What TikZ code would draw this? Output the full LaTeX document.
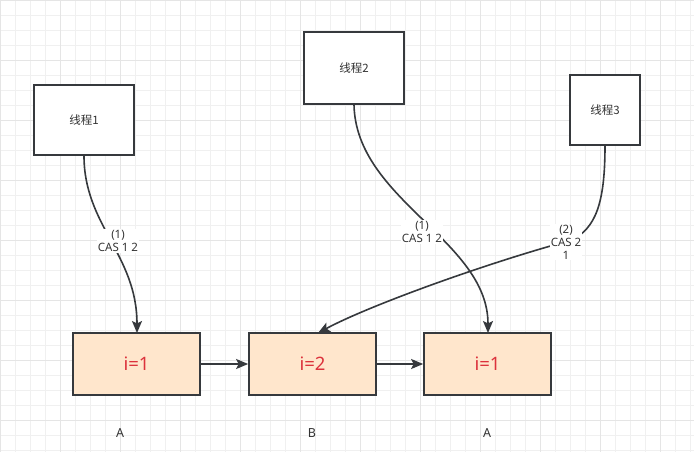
\documentclass[tikz,border=0pt]{standalone}
\usepackage{fontspec}
\setmainfont{Noto Sans}
\newfontfamily\cjk{Noto Sans CJK SC}
\usetikzlibrary{arrows.meta}
\definecolor{strk}{HTML}{36393D}
\definecolor{peach}{HTML}{FFE6CC}
\definecolor{redtxt}{HTML}{DC323C}
\definecolor{txt}{HTML}{333333}
\tikzset{
  thread/.style={draw=strk, line width=1.6pt, fill=white, minimum width=100pt, minimum height=70pt, inner sep=0pt, font=\cjk\fontsize{11.5}{13}\selectfont, text=txt},
  cell/.style={draw=strk, line width=1.7pt, fill=peach, minimum width=127pt, minimum height=62pt, inner sep=0pt, font=\fontsize{18.5}{20}\selectfont, text=redtxt},
  conn/.style={draw=strk, line width=1.6pt, -{Stealth[length=12pt,width=10pt,inset=2.5pt]}},
  lbl/.style={fill=white, inner sep=1pt, font=\fontsize{11.5}{13}\selectfont, text=txt, align=center},
  below/.style={font=\fontsize{12.5}{14}\selectfont, text=txt}
}
\begin{document}
\begin{tikzpicture}[x=1pt,y=-1pt]
\useasboundingbox (0,0) rectangle (694,452);
\fill[white] (0,0) rectangle (694,452);
\draw[black!6, line width=0.6pt] (0,0) grid[step=15pt] (694,452);
\draw[black!10, line width=0.9pt] (0,0) grid[step=60pt] (694,452);
% thread boxes
\node[thread] (t1) at (84,120) {线程1};
\node[thread, minimum height=72pt] (t2) at (354,68) {线程2};
\node[thread, minimum width=70pt] (t3) at (605,110) {线程3};
% cells
\node[cell] (a) at (136.5,364) {i=1};
\node[cell] (b) at (312.5,364) {i=2};
\node[cell] (c) at (487.5,364) {i=1};
% letters
\node[below] (la) at (120,433) {A};
\node[below] (lb) at (312,433) {B};
\node[below] (lc) at (487,433) {A};
% horizontal links
\draw[conn] (a.east) -- (b.west);
\draw[conn] (b.east) -- (c.west);
% curved links
\coordinate (e1) at (137,333);
\coordinate (e2) at (488,333);
\coordinate (e3) at (318,333);
\coordinate (m3) at (572,240);
\draw[conn] (t1.south) .. controls (84,225) and (137,255) .. (e1);
\draw[conn] (t2.south) .. controls (356,200) and (488,240) .. (e2);
\draw[conn] (t3.south) .. controls (605,205) and (595,228) .. (m3)
   .. controls (490,262) and (370,305) .. (e3);
% labels
\node[lbl] (l1) at (118,241) {(1)\\CAS 1 2};
\node[lbl] (l2) at (422,232) {(1)\\CAS 1 2};
\node[lbl] (l3) at (566,242) {(2)\\CAS 2\\1};
\end{tikzpicture}
\end{document}
